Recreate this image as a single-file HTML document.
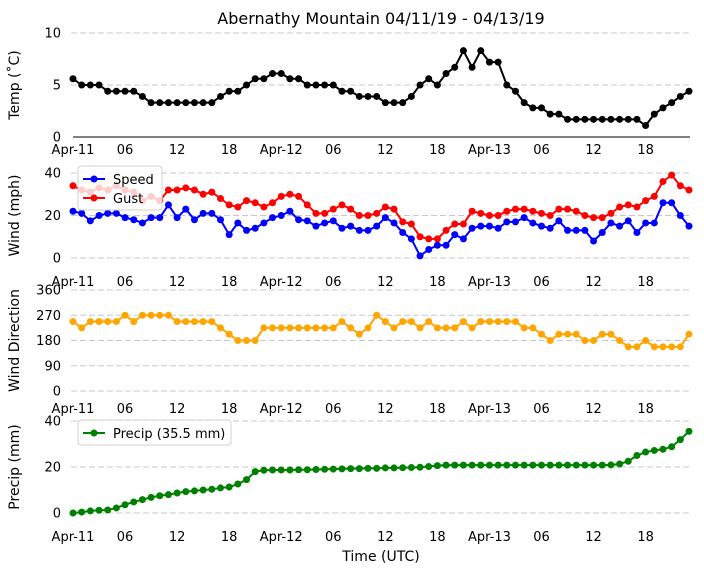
<!DOCTYPE html>
<html><head><meta charset="utf-8"><style>
body{margin:0;background:#fff}
svg{display:block;font-family:"DejaVu Sans","Liberation Sans",sans-serif}
</style></head><body>
<svg id="c" width="704" height="573" viewBox="0 0 704 573"></svg>
<script>
const hours = Array.from({length:72},(_,i)=>i);
const xTickHours = [0,6,12,18,24,30,36,42,48,54,60,66];
const xTickLabels = ["Apr-11","06","12","18","Apr-12","06","12","18","Apr-13","06","12","18"];
const tempValues = [5.6,5.0,5.0,5.0,4.4,4.4,4.4,4.4,3.9,3.3,3.3,3.3,3.3,3.3,3.3,3.3,3.3,3.9,4.4,4.4,5.0,5.6,5.6,6.1,6.1,5.6,5.6,5.0,5.0,5.0,5.0,4.4,4.4,3.9,3.9,3.9,3.3,3.3,3.3,3.9,5.0,5.6,5.0,6.1,6.7,8.3,6.7,8.3,7.2,7.2,5.0,4.4,3.3,2.8,2.8,2.2,2.2,1.7,1.7,1.7,1.7,1.7,1.7,1.7,1.7,1.7,1.1,2.2,2.8,3.3,3.9,4.4];
const speedValues = [22,21,17.5,20,21,21,19,18,16.5,19,19,25,19,23,18,21,21,18,11,16.5,13,14,16.5,19,20,22,18,17.5,15,16.5,17.5,14,15,13,13,15,19,16.5,12,9,1,4,6,6,11,9,14,15,15,14,17,17,19,16.5,15,14,17.5,13,13,13,8,12,16.5,15,17.5,12,16.5,16.5,26,26,20,15];
const gustValues = [34,32,31,33,32,34,32,31,27,29,27,32,32,33,32,30,31,28,25,24,27,26,24,26,29,30,29,25,21,21,23,25,23,20,20,21,24,23,17,16,10,9,9,13,16,16,22,21,20,20,22,23,23,22,21,20,23,23,22,20,19,19,21,24,25,24,27,29,36,39,34,32];
const dirValues = [247.5,225,247.5,247.5,247.5,247.5,270,247.5,270,270,270,270,247.5,247.5,247.5,247.5,247.5,225,202.5,180,180,180,225,225,225,225,225,225,225,225,225,247.5,225,202.5,225,270,247.5,225,247.5,247.5,225,247.5,225,225,225,247.5,225,247.5,247.5,247.5,247.5,247.5,225,225,202.5,180,202.5,202.5,202.5,180,180,202.5,202.5,180,157.5,157.5,180,157.5,157.5,157.5,157.5,202.5];
const precipValues = [0,0.4,0.9,1.2,1.3,2.2,3.6,4.8,5.8,6.8,7.5,8,8.7,9.3,9.6,10,10.3,10.9,11.3,12.6,14.5,18,18.6,18.7,18.7,18.7,18.8,18.8,18.9,19,19.1,19.2,19.3,19.3,19.4,19.4,19.6,19.6,19.7,19.8,19.9,20.2,20.6,20.8,20.8,20.8,20.8,20.8,20.8,20.8,20.8,20.8,20.8,20.8,20.8,20.8,20.8,20.8,20.8,20.8,20.8,20.8,20.9,21.3,22.5,25,26.5,27.2,27.7,28.8,31.9,35.5];
const tempTicks=[0,5,10], windTicks=[0,20,40], dirTicks=[0,90,180,270,360], precipTicks=[0,20,40];

const svg=document.getElementById('c');
const NS='http://www.w3.org/2000/svg';
function mk(tag,attrs,parent){const e=document.createElementNS(NS,tag);for(const k in attrs)e.setAttribute(k,attrs[k]);(parent||svg).appendChild(e);return e;}
const xScale=h=>73+h*(616/71);

const panels=[
 {name:'temp',y0:137,y1:33,v1:10,ticks:tempTicks,label:'Temp (˚C)',xl:154,axisLine:true},
 {name:'wind',y0:258,y1:173,v1:40,ticks:windTicks,label:'Wind (mph)',xl:286},
 {name:'direction',y0:391,y1:290,v1:360,ticks:dirTicks,label:'Wind Direction',xl:413},
 {name:'precip',y0:513,y1:421,v1:40,ticks:precipTicks,label:'Precip (mm)',xl:541}
];
function yS(p){return v=>p.y0+(p.y1-p.y0)*v/p.v1;}

let t=mk('text',{x:381,y:24,'text-anchor':'middle','font-size':16,fill:'#000'});

t.textContent='Abernathy Mountain 04/11/19 - 04/13/19';

function series(p,vals,color,nm){
 const ys=yS(p);
 const g=mk('g',{});
 
 
 mk('polyline',{points:vals.map((v,i)=>xScale(hours[i])+','+ys(v)).join(' '),fill:'none',stroke:color,'stroke-width':2},g);
 vals.forEach((v,i)=>{const c=mk('circle',{cx:xScale(hours[i]),cy:ys(v),r:3.5,fill:color},g);
  
  });
}

panels.forEach(p=>{
 const ys=yS(p);
 const g=mk('g',{});
 
 
 p.ticks.forEach(v=>{
  if(!(p.axisLine&&v===0)) mk('line',{x1:71,x2:690,y1:ys(v),y2:ys(v),stroke:'#c8c8c8','stroke-dasharray':'6,3','stroke-width':1},g);
  const tl=mk('text',{x:61,y:ys(v)+4.5,'text-anchor':'end','font-size':13,fill:'#000'},g);
  
  
  tl.textContent=v;
 });
 if(p.axisLine) mk('line',{x1:73,x2:690,y1:p.y0,y2:p.y0,stroke:'#000','stroke-width':1},g);
 xTickHours.forEach((h,i)=>{
  const xl=mk('text',{x:xScale(h),y:p.xl,'text-anchor':'middle','font-size':13,fill:'#000'},g);
  
  
  xl.textContent=xTickLabels[i];
 });
 const cy=(p.y0+p.y1)/2;
 const yl=mk('text',{x:19,y:cy,'text-anchor':'middle','font-size':14,fill:'#000',transform:`rotate(-90 19 ${cy})`},g);
 
 
 yl.textContent=p.label;
});

series(panels[0],tempValues,'#000','temp');
series(panels[1],gustValues,'#ff0000','gust');
series(panels[1],speedValues,'#0000ff','speed');
series(panels[2],dirValues,'#ffa500','direction');
series(panels[3],precipValues,'#008000','precip');

function legend(x,y,w,items,nm){
 const g=mk('g',{});
 
 
 mk('rect',{x:x,y:y,width:w,height:items.length*19+6,rx:3,fill:'#fff','fill-opacity':0.8,stroke:'#d0d0d0'},g);
 items.forEach((it,i)=>{
  const yy=y+13+i*19;
  mk('line',{x1:x+5,x2:x+27,y1:yy,y2:yy,stroke:it[1],'stroke-width':2},g);
  mk('circle',{cx:x+16,cy:yy,r:3.5,fill:it[1]},g);
  const tx=mk('text',{x:x+35,y:yy+5,'font-size':13,fill:'#000'},g);
  
  
  tx.textContent=it[0];
 });
}
legend(78,166,84,[['Speed','#0000ff'],['Gust','#ff0000']],'wind-legend');
legend(78,420,153,[['Precip (35.5 mm)','#008000']],'precip-legend');

const xt=mk('text',{x:381,y:561,'text-anchor':'middle','font-size':14,fill:'#000'});


xt.textContent='Time (UTC)';
</script>
</body></html>
